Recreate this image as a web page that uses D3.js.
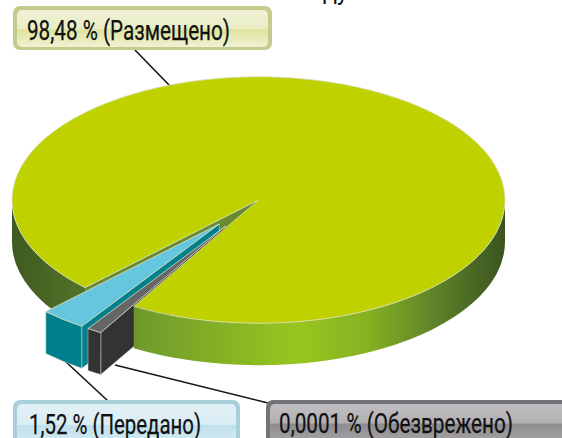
<!DOCTYPE html>
<html>
<head>
<meta charset="utf-8">
<script src="https://cdn.jsdelivr.net/npm/d3@7"></script>
<style>
  html, body { margin: 0; padding: 0; background: #fff; overflow: hidden; }
  svg { display: block; }
  text { font-family: "Roboto", sans-serif; fill: #111; }
</style>
</head>
<body>
<div id="chart"></div>
<script>
// data
var sliceNames = ["Размещено", "Обезврежено", "Передано"];
var sliceValues = [98.48, 0.0001, 1.52];

var svgW = 562;
var svgH = 438;
var cx = 258.5, cy = 200, rx = 246.5, tilt = 0.5, depth = 42;
var ry = rx * tilt;
var explode = 62;
var rad = Math.PI / 180;

// tiny slices are widened so they can be seen at all, the main one takes what is left
var smallAngle = d3.scaleLinear().domain([0.0001, 1.52]).range([3.5, 10.8]);
function shownAngle(v) { return v < 50 ? smallAngle(v) : 360 - smallAngle(0.0001) - smallAngle(1.52); }

var slices = d3.pie()
  .sort(null)
  .value(shownAngle)
  .startAngle(224.7 * rad)
  .endAngle((224.7 + 360) * rad)(sliceValues);

var svg = d3.select("#chart").append("svg").attr("width", svgW).attr("height", svgH);
var defs = svg.append("defs");

function gradient(id, stops, horizontal) {
  var g = defs.append("linearGradient").attr("id", id)
    .attr("x1", 0).attr("y1", 0)
    .attr("x2", horizontal ? 1 : 0).attr("y2", horizontal ? 0 : 1);
  stops.forEach(function(s) {
    g.append("stop").attr("offset", s[0]).attr("stop-color", s[1]);
  });
  return g;
}

gradient("wallGrad", [[0, "#3f5a20"], [0.15, "#557328"], [0.27, "#729c2c"], [0.58, "#98c61e"], [0.72, "#86b222"], [0.86, "#5f8128"], [1, "#3a5420"]], true)
  .attr("gradientUnits", "userSpaceOnUse")
  .attr("x1", cx - rx).attr("x2", cx + rx);
gradient("greenBox", [[0, "#f0f2d6"], [0.5, "#e9edc4"], [0.52, "#dde39f"], [1, "#f0f2d2"]]);
gradient("blueBox", [[0, "#e3f1f6"], [0.5, "#d9edf4"], [0.52, "#bfe0ec"], [1, "#d8edf4"]]);
gradient("greyBox", [[0, "#c2bfc2"], [0.45, "#b3b0b4"], [0.5, "#8f8d90"], [1, "#a8a6a8"]]);

// point on the rim of a slice
function rim(a, ox, oy) {
  return [cx + ox + rx * Math.sin(a), cy + oy - ry * Math.cos(a)];
}

function wall(a0, a1, ox, oy) {
  var p0 = rim(a0, ox, oy), p1 = rim(a1, ox, oy);
  var large = a1 - a0 > Math.PI ? 1 : 0;
  return "M" + p0 + "A" + rx + "," + ry + " 0 " + large + " 1 " + p1 +
    "L" + [p1[0], p1[1] + depth] +
    "A" + rx + "," + ry + " 0 " + large + " 0 " + [p0[0], p0[1] + depth] + "Z";
}

// flat side of a slice, from the apex out to the rim
function side(a, ox, oy) {
  var p = rim(a, ox, oy);
  var ax = cx + ox, ay = cy + oy;
  return "M" + [ax, ay] + "L" + p + "L" + [p[0], p[1] + depth] + "L" + [ax, ay + depth] + "Z";
}

var topArc = d3.arc().innerRadius(0).outerRadius(rx);

function drawTop(d, ox, oy, fill) {
  svg.append("path")
    .attr("d", topArc(d))
    .attr("transform", "translate(" + (cx + ox) + "," + (cy + oy) + ") scale(1," + tilt + ")")
    .attr("fill", fill)
    .attr("stroke", "#d8dfc4")
    .attr("stroke-width", 0.8)
    .style("vector-effect", "non-scaling-stroke");
}

function drawShape(path, fill) {
  svg.append("path").attr("d", path).attr("fill", fill)
    .attr("stroke", "#cfd6cf").attr("stroke-width", 0.5);
}

function offset(d) {
  var mid = (d.startAngle + d.endAngle) / 2;
  return [explode * Math.sin(mid), -explode * Math.cos(mid) * tilt];
}

var main = slices[0], grey = slices[1], blue = slices[2];
var ob = offset(blue);
var og = offset(grey);

// main slice, back parts
svg.append("path").attr("d", side(main.startAngle, 0, 0)).attr("fill", "#6b8a2e");
svg.append("path").attr("d", wall(main.startAngle, 270 * rad, 0, 0)).attr("fill", "url(#wallGrad)");

// leader lines sit under everything else
var leaders = [[135, 50, 170, 86], [65, 361, 108, 401], [115, 365, 268, 403]];
svg.selectAll("line.leader").data(leaders).enter().append("line")
  .attr("class", "leader")
  .attr("x1", function(d) { return d[0]; })
  .attr("y1", function(d) { return d[1]; })
  .attr("x2", function(d) { return d[2]; })
  .attr("y2", function(d) { return d[3]; })
  .attr("stroke", "#151515")
  .attr("stroke-width", 1.6);

// the long inner sides of the pulled slices go under the main slice
drawShape(side(blue.startAngle, ob[0], ob[1]), "#00808c");
drawShape(side(grey.startAngle, og[0], og[1]), "#333333");

svg.append("path").attr("d", wall(450 * rad, main.endAngle, 0, 0)).attr("fill", "url(#wallGrad)");
drawTop(main, 0, 0, "#c0d100");

drawShape(wall(blue.startAngle, blue.endAngle, ob[0], ob[1]), "#00808c");
drawTop(blue, ob[0], ob[1], "#66c6de");
drawShape(wall(grey.startAngle, grey.endAngle, og[0], og[1]), "#333333");
drawTop(grey, og[0], og[1], "#666666");

// labels
var boxes = [
  { i: 0, x: 13, y: 6, w: 259, h: 44, outer: "#c4cb8c", fill: "url(#greenBox)", tx: 27, ty: 40, tw: 203 },
  { i: 2, x: 13, y: 400, w: 227, h: 48, outer: "#a9d0da", fill: "url(#blueBox)", tx: 29, ty: 434, tw: 172 },
  { i: 1, x: 266, y: 400, w: 320, h: 48, outer: "#747276", fill: "url(#greyBox)", tx: 279, ty: 433, tw: 234 }
];

boxes.forEach(function(b) {
  svg.append("rect").attr("x", b.x).attr("y", b.y).attr("width", b.w).attr("height", b.h)
    .attr("rx", 7).attr("fill", b.outer);
  svg.append("rect").attr("x", b.x + 4).attr("y", b.y + 4).attr("width", b.w - 8).attr("height", b.h - 7)
    .attr("rx", 5).attr("fill", b.fill);
  svg.append("text")
    .attr("x", b.tx).attr("y", b.ty)
    .attr("font-size", 28)
    .attr("textLength", b.tw)
    .attr("lengthAdjust", "spacingAndGlyphs")
    .attr("stroke", "#111")
    .attr("stroke-width", 0.25)
    .text(String(sliceValues[b.i]).replace(".", ",") + " % (" + sliceNames[b.i] + ")");
});

// the title is cut off by the top of the picture, only the tails of its last letters show
svg.append("text").attr("x", 323).attr("y", 0).attr("font-size", 26).attr("textLength", 25)
  .attr("lengthAdjust", "spacingAndGlyphs").text("ду");
</script>
</body>
</html>
